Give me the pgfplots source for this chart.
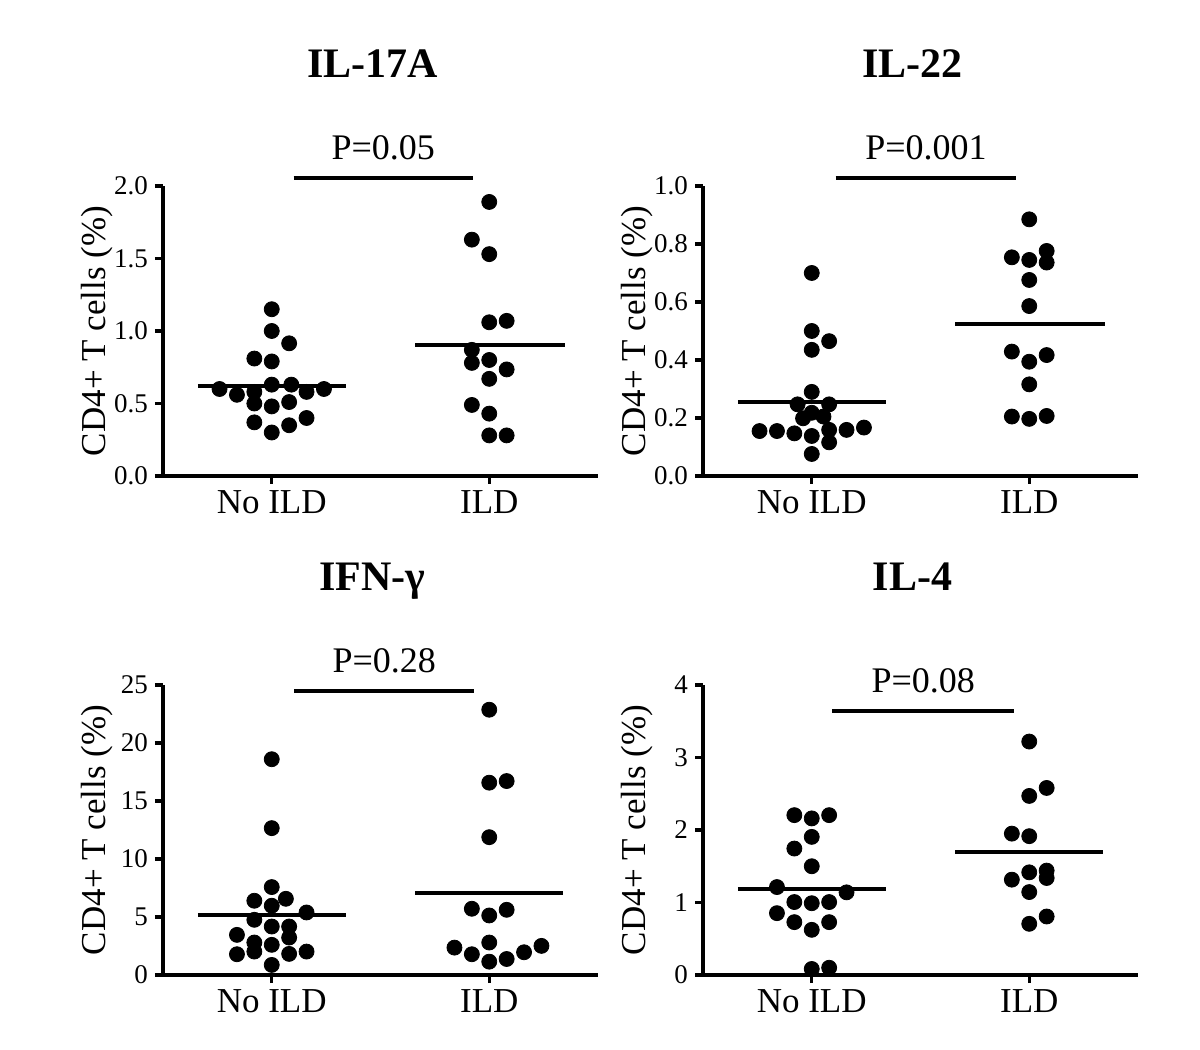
\documentclass[border=0pt]{standalone}
\usepackage{fontspec}
\setmainfont{Liberation Serif}
\usepackage{pgfplots}
\pgfplotsset{compat=1.18}

% one panel of the 2x2 figure, 1px of the reference = 0.5pt
\pgfplotsset{
  panel/.style={
    scale only axis, width=217.5pt, height=145pt,
    xmin=-0.5, xmax=1.5, ymin=0, clip=false,
    axis lines*=left,
    axis line style={line width=2pt},
    tick style={line width=1.6pt, black},
    major tick length=4pt, tick align=outside,
    xtick={0,1}, xticklabels={No ILD, ILD},
    xticklabel style={font=\fontsize{17.5}{20}\selectfont},
    yticklabel style={font=\fontsize{13.5}{16}\selectfont},
    /pgf/number format/assume math mode=true,
    ylabel={CD4+ T cells (\%)},
    every axis y label/.style={at={(axis description cs:-0.152,0.5)}, rotate=90, anchor=center,
      font=\fontsize{17.5}{20}\selectfont},
  },
  dots/.style={only marks, mark=*, mark size=3.75pt, black},
  mean/.style={no marks, black, line width=2pt},
  ttl/.style={title style={at={(axis description cs:0.5,1)}, anchor=base, yshift=#1, xshift=-4pt,
      font=\bfseries\fontsize{21}{24}\selectfont}},
}
\newcommand{\plab}[1]{node[pos=0.5, above=8pt, inner sep=0pt, font=\fontsize{18}{20}\selectfont] {#1}}

\begin{document}
\begin{tikzpicture}
\path[use as bounding box] (0,0) rectangle (600pt,525pt);

% IL-17A
\begin{axis}[panel, at={(81.5pt,287pt)}, anchor=south west, ymax=2.0, ytick={0,0.5,...,2.0},
  yticklabel style={/pgf/number format/.cd, fixed, fixed zerofill, precision=1},
  title={IL-17A}, ttl=48pt]
\addplot[dots] coordinates {(0,1.15) (0,1.00) (0.08,0.915) (-0.08,0.81) (0,0.79) (-0.24,0.60)
  (-0.16,0.56) (-0.08,0.58) (0,0.63) (0.09,0.63) (0.16,0.58) (0.24,0.60) (-0.08,0.50) (0,0.48)
  (0.08,0.51) (-0.08,0.37) (0,0.30) (0.08,0.35) (0.16,0.40)};
\addplot[dots] coordinates {(1,1.89) (0.92,1.63) (1,1.53) (1,1.06) (1.08,1.07) (0.92,0.87)
  (0.92,0.78) (1,0.80) (1.08,0.735) (1,0.67) (0.92,0.49) (1,0.43) (1,0.28) (1.08,0.28)};
\addplot[mean] coordinates {(-0.34,0.62) (0.34,0.62)};
\addplot[mean] coordinates {(0.66,0.90) (1.35,0.90)};
\addplot[mean] coordinates {(0.10,2.055) (0.925,2.055)} \plab{P=0.05};
\end{axis}

% IL-22
\begin{axis}[panel, at={(351.5pt,287pt)}, anchor=south west, ymax=1.0, ytick={0,0.2,...,1.0},
  yticklabel style={/pgf/number format/.cd, fixed, fixed zerofill, precision=1},
  title={IL-22}, ttl=48pt]
\addplot[dots] coordinates {(0,0.70) (0,0.50) (0.08,0.465) (0,0.435) (0,0.29) (-0.065,0.247)
  (0.08,0.247) (0,0.218) (-0.04,0.199) (0.054,0.205) (-0.24,0.155) (-0.16,0.155) (-0.08,0.147)
  (0,0.138) (0.08,0.159) (0.08,0.116) (0.16,0.159) (0.24,0.167) (0,0.076)};
\addplot[dots] coordinates {(1,0.885) (0.92,0.754) (1,0.745) (1.08,0.776) (1.08,0.736) (1,0.676)
  (1,0.586) (0.92,0.429) (1,0.394) (1.08,0.417) (1,0.316) (0.92,0.205) (1,0.197) (1.08,0.207)};
\addplot[mean] coordinates {(-0.34,0.254) (0.34,0.254)};
\addplot[mean] coordinates {(0.66,0.524) (1.35,0.524)};
\addplot[mean] coordinates {(0.11,1.026) (0.94,1.026)} \plab{P=0.001};
\end{axis}

% IFN-gamma
\begin{axis}[panel, at={(81.5pt,37.5pt)}, anchor=south west, ymax=25, ytick={0,5,...,25},
  title={IFN-γ}, ttl=41.5pt]
\addplot[dots] coordinates {(0,18.6) (0,12.66) (0,7.58) (-0.08,6.4) (0.065,6.57) (0,5.97)
  (0.16,5.39) (-0.08,4.76) (0,4.18) (0.08,4.18) (-0.16,3.46) (0.08,3.23) (-0.08,2.80) (0,2.60)
  (-0.16,1.79) (-0.08,2.02) (0.08,1.82) (0.16,2.02) (0,0.87)};
\addplot[dots] coordinates {(1,22.87) (1,16.58) (1.08,16.72) (1,11.88) (0.92,5.71) (1.08,5.62)
  (1,5.13) (1,2.80) (0.84,2.36) (0.92,1.79) (1,1.15) (1.08,1.38) (1.16,1.96) (1.24,2.51)};
\addplot[mean] coordinates {(-0.34,5.19) (0.34,5.19)};
\addplot[mean] coordinates {(0.66,7.06) (1.34,7.06)};
\addplot[mean] coordinates {(0.104,24.45) (0.93,24.45)} \plab{P=0.28};
\end{axis}

% IL-4
\begin{axis}[panel, at={(351.5pt,37.5pt)}, anchor=south west, ymax=4, ytick={0,1,...,4},
  title={IL-4}, ttl=41.5pt]
\addplot[dots] coordinates {(-0.08,2.205) (0,2.16) (0.08,2.205) (0,1.905) (-0.08,1.744) (0,1.50)
  (-0.16,1.213) (0.16,1.14) (-0.08,1.006) (0,0.99) (0.08,1.006) (-0.16,0.853) (-0.08,0.729)
  (0.08,0.729) (0,0.623) (0,0.083) (0.08,0.10)};
\addplot[dots] coordinates {(1,3.22) (1.08,2.58) (1,2.47) (0.92,1.95) (1,1.915) (1.08,1.44)
  (1,1.416) (0.92,1.315) (1.08,1.338) (1,1.144) (1.08,0.807) (1,0.706)};
\addplot[mean] coordinates {(-0.34,1.19) (0.34,1.19)};
\addplot[mean] coordinates {(0.66,1.70) (1.34,1.70)};
\addplot[mean] coordinates {(0.095,3.635) (0.93,3.635)} \plab{P=0.08};
\end{axis}
\end{tikzpicture}
\end{document}
